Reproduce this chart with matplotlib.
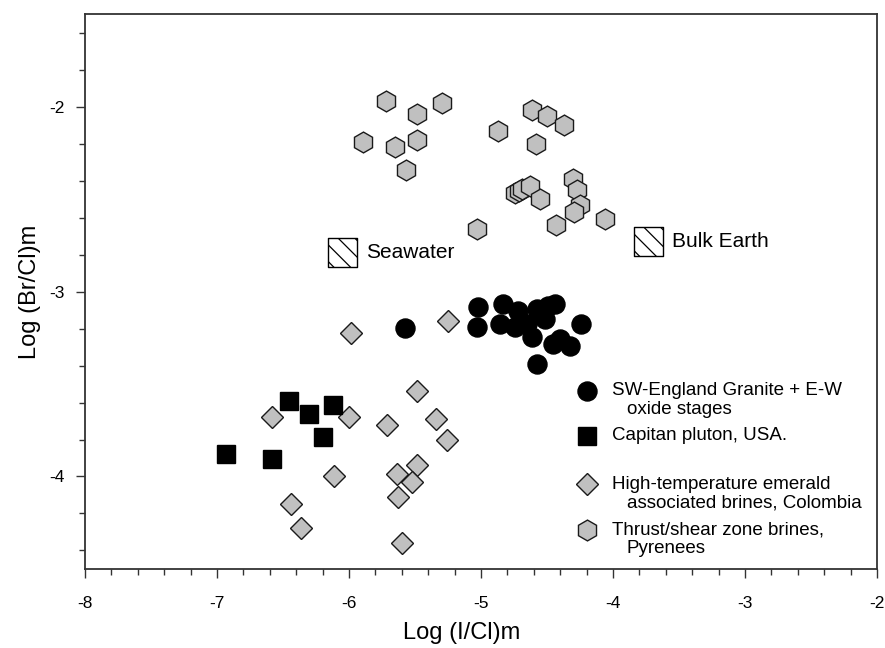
import numpy as np
import matplotlib
matplotlib.use("Agg")
import matplotlib.pyplot as plt
from matplotlib.ticker import MultipleLocator

plt.rcParams['font.family'] = ['Liberation Sans', 'DejaVu Sans']
plt.rcParams['axes.unicode_minus'] = False
plt.rcParams['hatch.linewidth'] = 0.9

# SW-England Granite + E-W oxide stages
granite_x = [-5.576, -5.020, -5.033, -4.831, -4.856, -4.717, -4.742, -4.616, -4.578,
             -4.490, -4.439, -4.515, -4.452, -4.402, -4.326, -4.245, -4.578, -4.654]
granite_y = [-3.195, -3.085, -3.189, -3.066, -3.175, -3.103, -3.193, -3.247, -3.094,
             -3.076, -3.066, -3.148, -3.283, -3.256, -3.292, -3.175, -3.391, -3.175]

# Capitan pluton, USA
capitan_x = [-6.932, -6.586, -6.455, -6.300, -6.120, -6.195]
capitan_y = [-3.877, -3.908, -3.589, -3.660, -3.616, -3.787]

# High-temperature emerald brines, Colombia
emerald_x = [-5.985, -5.253, -5.483, -6.581, -5.998, -5.715, -5.341, -5.255,
             -6.111, -5.639, -5.483, -5.523, -5.629, -6.442, -6.366, -5.598]
emerald_y = [-3.223, -3.160, -3.535, -3.680, -3.680, -3.724, -3.688, -3.805,
             -3.995, -3.985, -3.940, -4.030, -4.110, -4.150, -4.280, -4.360]

# Thrust/shear zone brines, Pyrenees
pyr_x = [-5.722, -5.485, -5.293, -5.892, -5.652, -5.485, -5.571,
         -4.871, -4.614, -4.500, -4.369, -4.583,
         -4.740, -4.715, -4.690, -4.630, -4.553,
         -4.300, -4.270, -4.250, -4.295, -4.434, -4.061, -5.033]
pyr_y = [-1.970, -2.040, -1.980, -2.190, -2.220, -2.180, -2.340,
         -2.130, -2.020, -2.050, -2.100, -2.200,
         -2.465, -2.455, -2.445, -2.430, -2.500,
         -2.390, -2.450, -2.530, -2.570, -2.640, -2.610, -2.660]

# reference compositions
ref_names = ['Seawater', 'Bulk Earth']
ref_x = [-6.05, -3.73]
ref_y = [-2.79, -2.73]

gray = '#c0c0c0'
edge = '#1a1a1a'
hex_ms = 15

fig = plt.figure(figsize=(8.85, 6.48), dpi=100)
ax = fig.add_axes([0.096, 0.122, 0.895, 0.856])

ax.plot(pyr_x, pyr_y, 'h', ms=hex_ms, mfc=gray, mec=edge, mew=1.0, ls='none')
ax.plot(emerald_x, emerald_y, 'D', ms=11.3, mfc=gray, mec=edge, mew=1.0, ls='none')
ax.plot(capitan_x, capitan_y, 's', ms=12.3, mfc='black', mec='black', ls='none')
ax.plot(granite_x, granite_y, 'o', ms=13.7, mfc='black', mec='black', ls='none')

ax.scatter(ref_x, ref_y, marker='s', s=21**2, facecolor='white', edgecolor='black',
           linewidths=1.0, hatch='\\\\')
for name, x, y in zip(ref_names, ref_x, ref_y):
    ax.text(x + 0.18, y, name, fontsize=15, va='center', ha='left')

ax.set_xlim(-8, -2)
ax.set_ylim(-4.5, -1.5)
ax.xaxis.set_major_locator(MultipleLocator(1))
ax.xaxis.set_minor_locator(MultipleLocator(0.2))
ax.yaxis.set_major_locator(MultipleLocator(1))
ax.yaxis.set_minor_locator(MultipleLocator(0.2))
ax.tick_params(which='both', direction='out', color='#333333', labelsize=12.5)
ax.tick_params(which='major', length=6.5, width=1.0)
ax.tick_params(which='minor', length=4, width=1.0)
ax.tick_params(axis='x', which='major', pad=13)
ax.tick_params(axis='y', which='major', pad=8)
for s in ax.spines.values():
    s.set_color('#333333')
    s.set_linewidth(1.3)

ax.set_xlabel('Log (I/Cl)m', fontsize=17)
ax.set_ylabel('Log (Br/Cl)m', fontsize=17, labelpad=6)
ax.xaxis.set_label_coords(0.476, -0.095)

# legend drawn by hand so the symbol sits on the first text line
leg_items = [
    ('o', 13.7, 'black', 'SW-England Granite + E-W', 'oxide stages'),
    ('s', 12.3, 'black', 'Capitan pluton, USA.', None),
    ('D', 11.3, gray, 'High-temperature emerald', 'associated brines, Colombia'),
    ('h', hex_ms, gray, 'Thrust/shear zone brines,', 'Pyrenees'),
]
leg_y = [0.321, 0.240, 0.153, 0.070]
for (m, ms, fc, l1, l2), yy in zip(leg_items, leg_y):
    ax.plot([0.634], [yy], m, ms=ms, mfc=fc, mec=edge if fc == gray else 'black',
            mew=1.0, transform=ax.transAxes, clip_on=False)
    ax.text(0.665, yy, l1, fontsize=13.5, va='center', ha='left', transform=ax.transAxes)
    if l2:
        ax.text(0.684, yy - 0.034, l2, fontsize=13.5, va='center', ha='left',
                transform=ax.transAxes)

fig.savefig('out.png', dpi=100)
